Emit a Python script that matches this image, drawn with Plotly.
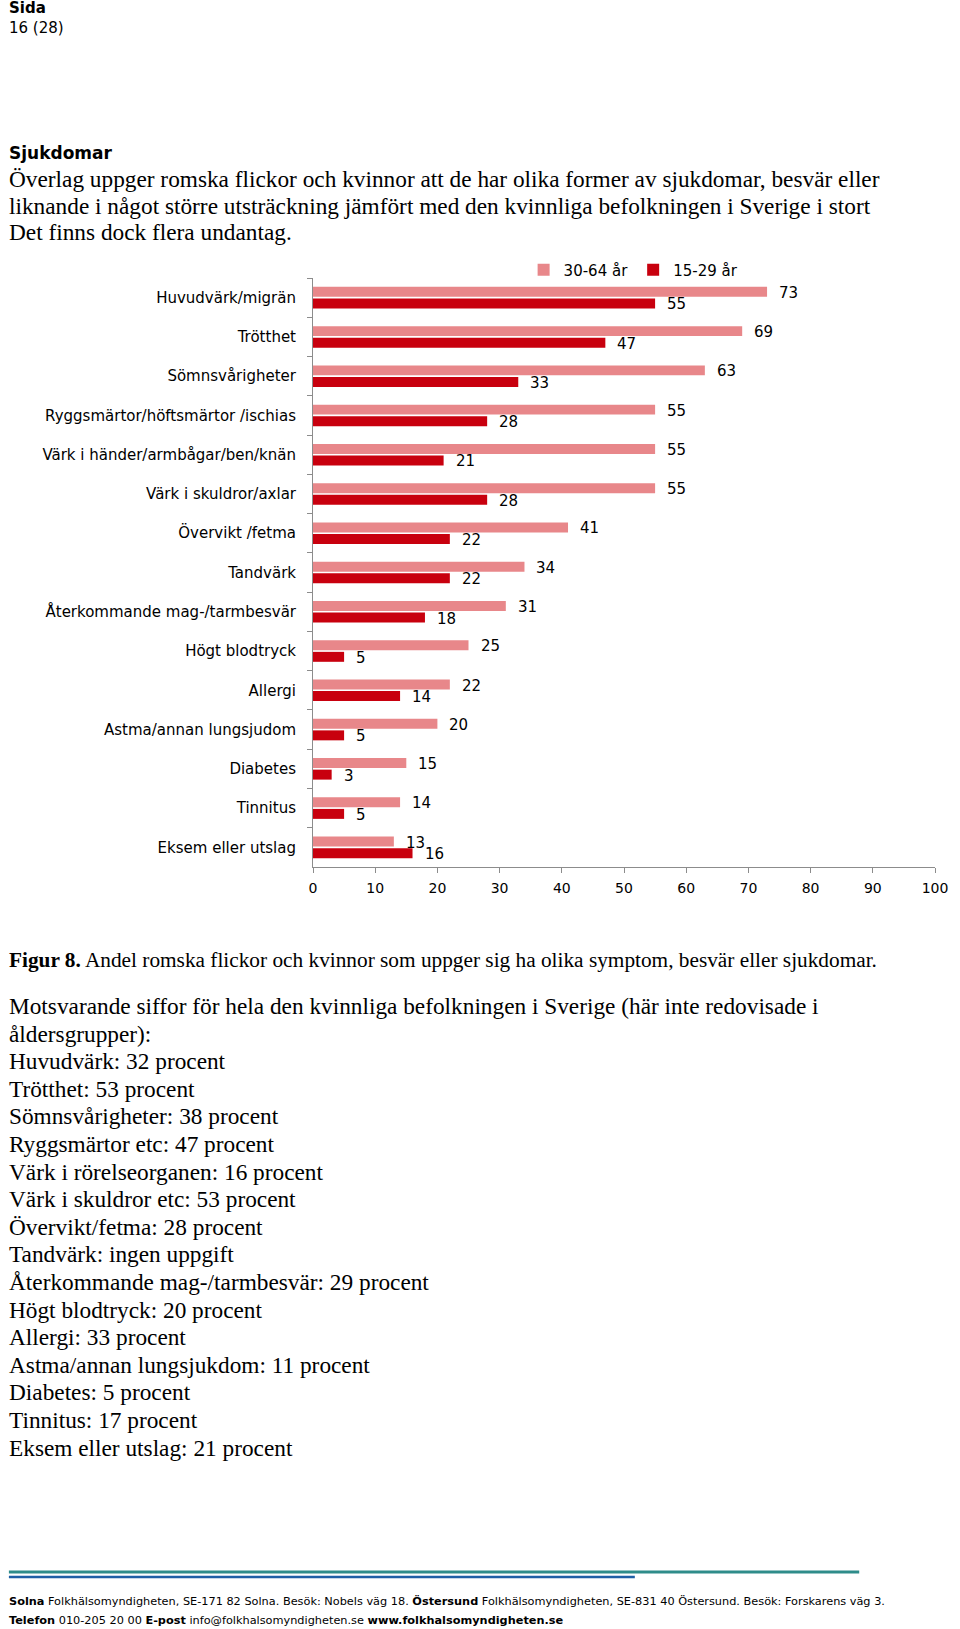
import plotly.graph_objects as go

# ---------------- data ----------------
categories = [
    "Huvudvärk/migrän",
    "Trötthet",
    "Sömnsvårigheter",
    "Ryggsmärtor/höftsmärtor /ischias",
    "Värk i händer/armbågar/ben/knän",
    "Värk i skuldror/axlar",
    "Övervikt /fetma",
    "Tandvärk",
    "Återkommande mag-/tarmbesvär",
    "Högt blodtryck",
    "Allergi",
    "Astma/annan lungsjudom",
    "Diabetes",
    "Tinnitus",
    "Eksem eller utslag",
]
age_30_64 = [73, 69, 63, 55, 55, 55, 41, 34, 31, 25, 22, 20, 15, 14, 13]
age_15_29 = [55, 47, 33, 28, 21, 28, 22, 22, 18, 5, 14, 5, 3, 5, 16]
series_names = ["30-64 år", "15-29 år"]
x_ticks = [0, 10, 20, 30, 40, 50, 60, 70, 80, 90, 100]

intro_lines = [
    "Överlag uppger romska flickor och kvinnor att de har olika former av sjukdomar, besvär eller",
    "liknande i något större utsträckning jämfört med den kvinnliga befolkningen i Sverige i stort",
    "Det finns dock flera undantag.",
]
caption = "<b>Figur 8.</b> Andel romska flickor och kvinnor som uppger sig ha olika symptom, besvär eller sjukdomar."
after_lines = [
    "Motsvarande siffor för hela den kvinnliga befolkningen i Sverige (här inte redovisade i",
    "åldersgrupper):",
    "Huvudvärk: 32 procent",
    "Trötthet: 53 procent",
    "Sömnsvårigheter: 38 procent",
    "Ryggsmärtor etc: 47 procent",
    "Värk i rörelseorganen: 16 procent",
    "Värk i skuldror etc: 53 procent",
    "Övervikt/fetma: 28 procent",
    "Tandvärk: ingen uppgift",
    "Återkommande mag-/tarmbesvär: 29 procent",
    "Högt blodtryck: 20 procent",
    "Allergi: 33 procent",
    "Astma/annan lungsjukdom: 11 procent",
    "Diabetes: 5 procent",
    "Tinnitus: 17 procent",
    "Eksem eller utslag: 21 procent",
]
footer_lines = [
    "<b>Solna</b> Folkhälsomyndigheten, SE-171 82 Solna. Besök: Nobels väg 18. "
    "<b>Östersund</b> Folkhälsomyndigheten, SE-831 40 Östersund. Besök: Forskarens väg 3.",
    "<b>Telefon</b> 010-205 20 00 <b>E-post</b> info@folkhalsomyndigheten.se "
    "<b>www.folkhalsomyndigheten.se</b>",
]

# ---------------- style ----------------
W, H = 960, 1629
L, R, T, B = 313, 15, 278, 762
PW, PH = W - L - R, H - T - B
LIGHT = "#E8878A"
DARK = "#C8000E"
AXIS = "#8C8C8C"
SANS = "DejaVu Sans"
SERIF = "Liberation Serif"
BARGAP = 0.41


def px_x(x):
    return (x - L) / PW


def px_y(y):
    return (H - B - y) / PH


fig = go.Figure()
for name, vals, col in [(series_names[0], age_30_64, LIGHT), (series_names[1], age_15_29, DARK)]:
    fig.add_trace(go.Bar(
        y=categories, x=vals, name=name, orientation="h",
        marker=dict(color=col, line=dict(width=0)),
        hoverinfo="x+y",
    ))

annotations = []
# value labels
half = (1 - BARGAP) / 4
for si, vals in enumerate([age_30_64, age_15_29]):
    off = -half if si == 0 else half
    for i, v in enumerate(vals):
        annotations.append(dict(
            x=v, y=i + off, xref="x", yref="y", text=str(v), showarrow=False,
            xanchor="left", yanchor="middle", xshift=10, yshift=-1,
            font=dict(family=SANS, size=15, color="#000"),
        ))


def text_line(txt, x, y, size, family=SERIF, color="#000"):
    annotations.append(dict(
        x=px_x(x), y=px_y(y), xref="paper", yref="paper", text=txt,
        showarrow=False, xanchor="left", yanchor="middle",
        font=dict(family=family, size=size, color=color),
    ))


text_line("<b>Sida</b>", 2, 8, 15, SANS)
text_line("16 (28)", 2, 28, 15, SANS)
text_line("<b>Sjukdomar</b>", 2, 153, 17, SANS)
for k, ln in enumerate(intro_lines):
    text_line(ln, 2, 179 + k * 26.6, 23.3)
text_line(caption, 2, 960, 21.3)
for k, ln in enumerate(after_lines):
    text_line(ln, 2, 1006 + k * 27.6, 23.3)
text_line(footer_lines[0], 2, 1601, 11.3, SANS)
text_line(footer_lines[1], 2, 1620, 11.3, SANS)

shapes = [
    dict(type="line", xref="paper", yref="paper", x0=px_x(4), x1=px_x(868),
         y0=px_y(1572), y1=px_y(1572), line=dict(color="#2E8C8A", width=3)),
    dict(type="line", xref="paper", yref="paper", x0=px_x(4), x1=px_x(640),
         y0=px_y(1577), y1=px_y(1577), line=dict(color="#1F5FA6", width=2.5)),
]

fig.update_layout(
    width=W, height=H, autosize=False,
    margin=dict(l=L, r=R, t=T, b=B, pad=0),
    paper_bgcolor="white", plot_bgcolor="white",
    barmode="group", bargap=BARGAP, bargroupgap=0.14,
    font=dict(family=SANS, size=15, color="#000"),
    showlegend=True,
    legend=dict(orientation="h", x=px_x(527), y=px_y(270), xanchor="left", yanchor="middle",
                font=dict(family=SANS, size=15, color="#000"), traceorder="normal",
                bgcolor="rgba(0,0,0,0)", itemclick=False, itemdoubleclick=False),
    xaxis=dict(range=[0, 100], tickvals=x_ticks, ticks="outside", ticklen=5,
               tickcolor=AXIS, showline=True, linecolor=AXIS, linewidth=1,
               showgrid=False, zeroline=False, ticklabelstandoff=3,
               tickfont=dict(family=SANS, size=14, color="#000"), fixedrange=True),
    yaxis=dict(type="category", autorange="reversed", tickson="boundaries",
               ticks="outside", ticklen=5, tickcolor=AXIS, showline=True,
               linecolor=AXIS, linewidth=1, showgrid=False, zeroline=False,
               ticklabelstandoff=13, tickfont=dict(family=SANS, size=15, color="#000"),
               fixedrange=True),
    annotations=annotations,
    shapes=shapes,
)

fig.write_html("out.html", post_script="document.body.style.margin='0';",
               config={"displayModeBar": False})
